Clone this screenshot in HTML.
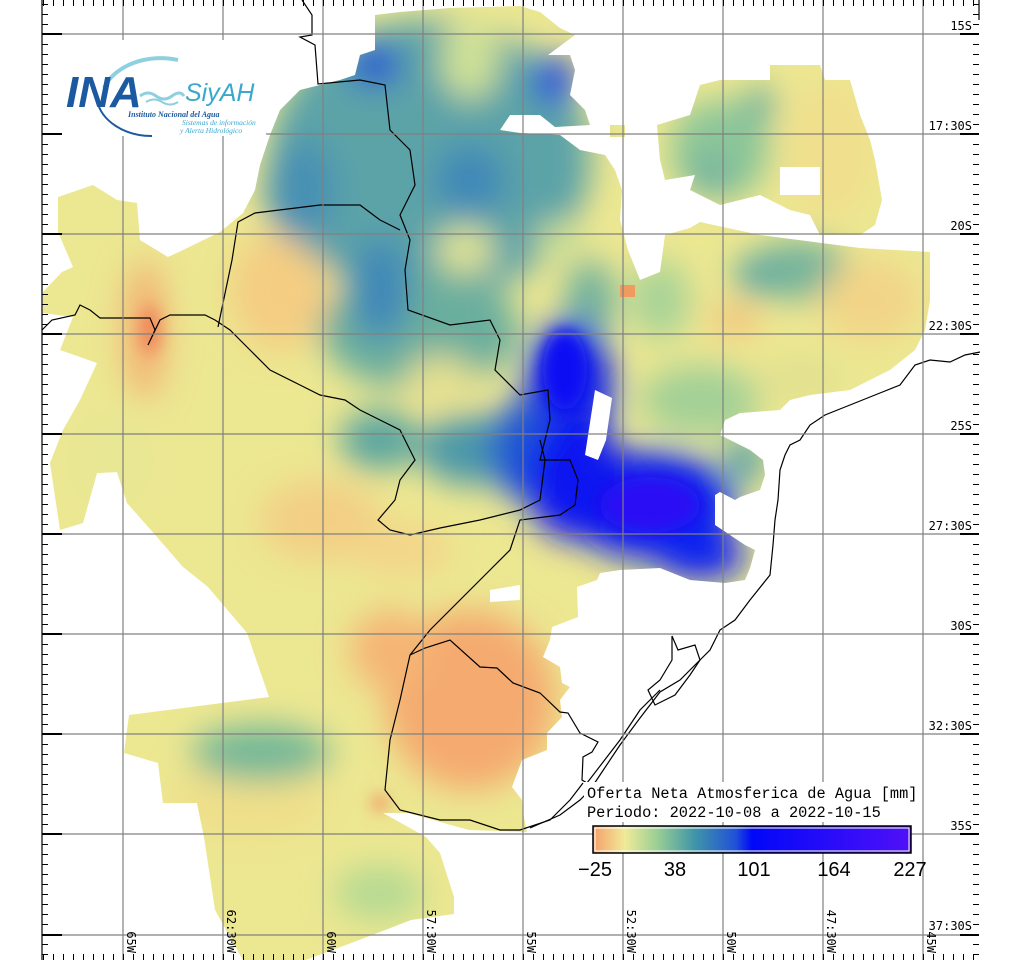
<!DOCTYPE html>
<html><head><meta charset="utf-8"><style>
html,body{margin:0;padding:0;background:#fff;}
svg{display:block;}
</style></head><body>
<svg width="1024" height="960" viewBox="0 0 1024 960" xmlns="http://www.w3.org/2000/svg">
<defs>
<clipPath id="land">
<path d="M93,185 L117,200 L137,203 L140,240 L168,257 L183,250 L220,232 L243,213 L255,190 L260,165 L270,135 L280,110 L300,90 L320,85 L340,80 L355,75 L360,55 L375,50 L375,15 L400,12 L450,8 L520,6 L540,12 L560,28 L575,35 L548,55 L570,55 L575,70 L570,95 L585,110 L590,125 L555,127 L540,115 L510,115 L500,130 L520,133 L560,135 L580,150 L605,155 L615,170 L622,190 L620,220 L628,250 L640,280 L660,272 L665,235 L690,228 L700,222 L760,235 L860,248 L930,252 L930,300 L925,330 L915,350 L890,370 L870,380 L850,390 L810,395 L790,400 L780,410 L740,413 L725,420 L720,435 L750,450 L763,460 L765,475 L760,490 L740,497 L735,500 L720,492 L715,495 L715,525 L745,545 L755,550 L750,568 L745,580 L725,583 L690,580 L660,568 L620,570 L600,573 L597,580 L577,587 L578,617 L552,627 L550,640 L543,657 L560,667 L562,683 L570,687 L560,700 L562,717 L547,733 L547,750 L522,760 L512,787 L522,800 L523,813 L527,832 L469,830 L408,813 L383,813 L426,837 L440,853 L454,897 L454,914 L411,920 L354,942 L300,962 L244,962 L215,910 L204,837 L197,803 L163,803 L158,763 L124,753 L129,715 L269,697 L247,633 L208,587 L183,567 L157,537 L127,503 L117,472 L97,473 L83,523 L60,530 L50,463 L63,430 L80,400 L97,363 L60,350 L73,317 L43,313 L43,292 L62,272 L73,267 L58,232 L58,197 Z"/>
<path d="M657,125 L690,115 L700,85 L720,80 L770,80 L770,65 L820,65 L825,80 L850,80 L860,115 L870,140 L875,160 L882,200 L875,225 L860,235 L820,235 L810,215 L790,210 L760,195 L740,200 L720,205 L690,190 L695,175 L665,180 L660,160 Z"/>
<rect x="610" y="125" width="15" height="12"/>
</clipPath>
<filter id="b" x="-50%" y="-50%" width="200%" height="200%"><feGaussianBlur stdDeviation="16"/></filter>
<filter id="b2" x="-50%" y="-50%" width="200%" height="200%"><feGaussianBlur stdDeviation="8"/></filter>
<linearGradient id="cb" x1="0" x2="1" y1="0" y2="0">
<stop offset="0" stop-color="#f6a06a"/>
<stop offset="0.1" stop-color="#f0ea98"/>
<stop offset="0.2" stop-color="#9ccf95"/>
<stop offset="0.32" stop-color="#3f95a8"/>
<stop offset="0.45" stop-color="#2050d8"/>
<stop offset="0.5" stop-color="#0008f8"/>
<stop offset="0.75" stop-color="#2a0cf8"/>
<stop offset="1" stop-color="#5010f8"/>
</linearGradient>
<pattern id="tv" x="0" y="4" width="10" height="10" patternUnits="userSpaceOnUse"><line x1="0" y1="0" x2="10" y2="0" stroke="#000" stroke-width="2"/></pattern>
<pattern id="th" x="3" y="0" width="10" height="10" patternUnits="userSpaceOnUse"><line x1="0" y1="0" x2="0" y2="10" stroke="#000" stroke-width="2"/></pattern>
</defs>

<g clip-path="url(#land)">
<rect x="0" y="0" width="1024" height="960" fill="#ece791"/>
<g filter="url(#b)">
<ellipse cx="145" cy="330" rx="22" ry="70" fill="#f2b474"/>
<ellipse cx="280" cy="290" rx="50" ry="60" fill="#f4cd82"/>
<ellipse cx="470" cy="700" rx="85" ry="90" fill="#f5aa70"/>
<ellipse cx="390" cy="650" rx="40" ry="40" fill="#f5b574"/>
<ellipse cx="320" cy="520" rx="60" ry="40" fill="#f3cf84"/>
<ellipse cx="400" cy="550" rx="50" ry="25" fill="#f4d488"/>
<ellipse cx="250" cy="800" rx="80" ry="40" fill="#efdf8a"/>
<ellipse cx="430" cy="160" rx="160" ry="140" fill="#5ba3a8"/>
<ellipse cx="420" cy="330" rx="100" ry="60" fill="#6aae9e"/>
<ellipse cx="470" cy="60" rx="30" ry="40" fill="#cfe196"/>
<ellipse cx="470" cy="180" rx="35" ry="35" fill="#3f88b8"/>
<ellipse cx="300" cy="190" rx="35" ry="50" fill="#4690b4"/>
<ellipse cx="375" cy="65" rx="25" ry="20" fill="#1f4ed4"/>
<ellipse cx="555" cy="80" rx="20" ry="25" fill="#1a40e0"/>
<ellipse cx="380" cy="290" rx="30" ry="50" fill="#3f88b8"/>
<ellipse cx="465" cy="250" rx="30" ry="25" fill="#dfe395"/>
<ellipse cx="560" cy="240" rx="25" ry="20" fill="#c9de94"/>
<ellipse cx="440" cy="380" rx="35" ry="25" fill="#e4e090"/>
<ellipse cx="380" cy="440" rx="40" ry="30" fill="#5aa5a0"/>
<ellipse cx="470" cy="450" rx="50" ry="35" fill="#4c98a8"/>
<ellipse cx="590" cy="300" rx="25" ry="40" fill="#6fb09e"/>
<ellipse cx="720" cy="150" rx="50" ry="50" fill="#8cc699"/>
<ellipse cx="830" cy="150" rx="45" ry="70" fill="#f0df8c"/>
<ellipse cx="760" cy="105" rx="15" ry="20" fill="#6aaea0"/>
<ellipse cx="710" cy="175" rx="20" ry="20" fill="#6fb0a0"/>
<ellipse cx="800" cy="270" rx="50" ry="30" fill="#74b49c"/>
<ellipse cx="755" cy="275" rx="20" ry="20" fill="#5aa6a3"/>
<ellipse cx="660" cy="300" rx="30" ry="40" fill="#a8d397"/>
<ellipse cx="870" cy="300" rx="50" ry="40" fill="#f2d487"/>
<ellipse cx="735" cy="320" rx="25" ry="15" fill="#f3c07c"/>
<ellipse cx="700" cy="400" rx="60" ry="35" fill="#a3d096"/>
<ellipse cx="800" cy="380" rx="40" ry="20" fill="#dfe090"/>
<ellipse cx="745" cy="460" rx="20" ry="25" fill="#5aa0a8"/>
<ellipse cx="570" cy="390" rx="45" ry="70" fill="#1428e8"/>
<ellipse cx="520" cy="450" rx="30" ry="50" fill="#2458d2"/>
<ellipse cx="650" cy="505" rx="85" ry="55" fill="#1020f0"/>
<ellipse cx="700" cy="555" rx="45" ry="25" fill="#1020f0"/>
<ellipse cx="575" cy="480" rx="50" ry="60" fill="#0f18f0"/>
<ellipse cx="261" cy="753" rx="70" ry="28" fill="#74b898"/>
<ellipse cx="379" cy="893" rx="45" ry="28" fill="#b6da92"/>
<ellipse cx="110" cy="460" rx="40" ry="50" fill="#e8e794"/>
</g>
<g filter="url(#b2)">
<ellipse cx="565" cy="370" rx="22" ry="40" fill="#0a10f4"/>
<ellipse cx="650" cy="505" rx="50" ry="28" fill="#2a0cf4"/>
<ellipse cx="380" cy="803" rx="8" ry="8" fill="#f08a5a"/>
<ellipse cx="150" cy="330" rx="10" ry="25" fill="#f08458"/>
</g>
<path d="M595,390 L612,398 L606,440 L598,460 L585,455 Z" fill="#fff"/>
<rect x="780" y="167" width="40" height="28" fill="#fff"/>
<path d="M490,590 L520,585 L520,600 L490,602 Z" fill="#fff"/>
<rect x="620" y="285" width="15" height="12" fill="#f09a60"/>
</g>

<g fill="none" stroke="#000" stroke-width="1.2">
<path d="M302,0 L312,15 L312,35 L300,37 L315,45 L318,84 L360,80 L385,85 L390,130 L410,150 L415,185 L400,215 L410,240 L405,270 L408,310 L450,325 L490,320 L500,340 L495,370 L520,395 L548,390 L550,420 L540,460 L570,460 L578,480 L575,505 L560,515 L520,520 L510,550 L490,570 L470,590 L450,610 L430,630 L410,655 L400,700 L390,740 L385,790 L400,810 L440,820 L470,820 L500,830 L520,830 L550,820 L570,800 L583,783"/>
<path d="M42,330 L52,320 L75,315 L80,305 L90,310 L100,318 L150,318 L155,330 L148,345 L160,320 L170,315 L205,315 L215,320 L230,330 L250,350 L270,370 L300,385 L320,395 L345,400 L360,410 L380,420 L400,430 L415,460 L400,480 L395,500 L378,520 L390,530 L410,535 L440,528 L480,520 L520,510 L540,500 L545,460 L540,440"/>
<path d="M218,327 L232,260 L238,222 L255,213 L320,205 L360,205 L380,220 L400,230"/>
<path d="M410,655 L425,648 L450,640 L480,667 L497,668 L513,683 L540,693 L560,712 L568,713 L580,733 L598,742 L592,752 L583,757 L582,780 L587,783 L620,740 L640,710 L660,690"/>
<path d="M980,352 L965,355 L950,362 L930,360 L915,365 L900,385 L880,393 L850,405 L825,415 L810,425 L800,440 L790,445 L785,455 L780,470 L778,500 L775,520 L773,545 L770,575 L750,600 L735,620 L720,630 L710,650 L700,660 L680,680 L660,692 L640,718 L620,745 L600,775 L590,790 L580,800 L560,815 L530,828"/>
<path d="M672,636 L678,650 L695,645 L700,660 L690,675 L675,695 L655,705 L648,690 L660,680 L672,660 Z"/>
</g>

<g stroke="#808080" stroke-width="1.2">
<line x1="123" y1="0" x2="123" y2="960"/><line x1="223" y1="0" x2="223" y2="960"/>
<line x1="323" y1="0" x2="323" y2="960"/><line x1="423" y1="0" x2="423" y2="960"/>
<line x1="523" y1="0" x2="523" y2="960"/><line x1="623" y1="0" x2="623" y2="960"/>
<line x1="723" y1="0" x2="723" y2="960"/><line x1="823" y1="0" x2="823" y2="960"/>
<line x1="923" y1="0" x2="923" y2="960"/>
<line x1="42" y1="34" x2="979" y2="34"/><line x1="42" y1="134" x2="979" y2="134"/>
<line x1="42" y1="234" x2="979" y2="234"/><line x1="42" y1="334" x2="979" y2="334"/>
<line x1="42" y1="434" x2="979" y2="434"/><line x1="42" y1="534" x2="979" y2="534"/>
<line x1="42" y1="634" x2="979" y2="634"/><line x1="42" y1="734" x2="979" y2="734"/>
<line x1="42" y1="834" x2="979" y2="834"/><line x1="42" y1="935" x2="979" y2="935"/>
</g>

<rect x="44" y="40" width="222" height="96" fill="#fff"/>
<path d="M104,88 A60,44 0 0 1 178,60" fill="none" stroke="#8fd0e0" stroke-width="4"/>
<path d="M97,100 A55,42 0 0 0 152,136" fill="none" stroke="#1b5aa0" stroke-width="2"/>
<text x="66" y="107" style="font-family:'Liberation Sans',sans-serif;font-style:italic;font-weight:bold;font-size:44px" fill="#1b5aa0">INA</text>
<text x="185" y="101" style="font-family:'Liberation Sans',sans-serif;font-style:italic;font-size:25px" fill="#3aa8cc">SiyAH</text>
<path d="M140,96 q8,-6 16,0 t16,0 t12,0" fill="none" stroke="#8fd0e0" stroke-width="3"/>
<path d="M146,102 q8,-5 16,0 t16,0" fill="none" stroke="#8fd0e0" stroke-width="2"/>
<text x="128" y="117" style="font-family:'Liberation Serif',serif;font-style:italic;font-weight:bold;font-size:8px" fill="#1b5aa0">Instituto Nacional del Agua</text>
<text x="182" y="125" style="font-family:'Liberation Serif',serif;font-style:italic;font-size:7.5px" fill="#3aa8cc">Sistemas de información</text>
<text x="180" y="133" style="font-family:'Liberation Serif',serif;font-style:italic;font-size:7.5px" fill="#3aa8cc">y Alerta Hidrológico</text>

<line x1="42" y1="0" x2="42" y2="960" stroke="#000" stroke-width="1.2"/>
<line x1="979" y1="0" x2="979" y2="20" stroke="#000" stroke-width="1.2"/>
<rect x="42" y="0" width="6" height="960" fill="url(#tv)"/>
<rect x="973" y="0" width="6" height="960" fill="url(#tv)"/>
<rect x="42" y="0" width="937" height="6" fill="url(#th)"/>
<rect x="42" y="954" width="937" height="6" fill="url(#th)"/>
<g stroke="#000" stroke-width="2">
<line x1="42" y1="34" x2="62" y2="34"/><line x1="42" y1="134" x2="62" y2="134"/><line x1="42" y1="234" x2="62" y2="234"/><line x1="42" y1="334" x2="62" y2="334"/><line x1="42" y1="434" x2="62" y2="434"/><line x1="42" y1="534" x2="62" y2="534"/><line x1="42" y1="634" x2="62" y2="634"/><line x1="42" y1="734" x2="62" y2="734"/><line x1="42" y1="834" x2="62" y2="834"/><line x1="42" y1="935" x2="62" y2="935"/>
<line x1="960" y1="34" x2="979" y2="34"/><line x1="960" y1="134" x2="979" y2="134"/><line x1="960" y1="234" x2="979" y2="234"/><line x1="960" y1="334" x2="979" y2="334"/><line x1="960" y1="434" x2="979" y2="434"/><line x1="960" y1="534" x2="979" y2="534"/><line x1="960" y1="634" x2="979" y2="634"/><line x1="960" y1="734" x2="979" y2="734"/><line x1="960" y1="834" x2="979" y2="834"/><line x1="960" y1="935" x2="979" y2="935"/>
</g>

<g style="font-family:'DejaVu Sans Mono','Liberation Mono',monospace;font-size:12px" text-anchor="end" fill="#000">
<text x="972" y="30">15S</text><text x="972" y="130">17:30S</text>
<text x="972" y="230">20S</text><text x="972" y="330">22:30S</text>
<text x="972" y="430">25S</text><text x="972" y="530">27:30S</text>
<text x="972" y="630">30S</text><text x="972" y="730">32:30S</text>
<text x="972" y="830">35S</text><text x="972" y="930">37:30S</text>
</g>
<g style="font-family:'DejaVu Sans Mono','Liberation Mono',monospace;font-size:12px" fill="#000" text-anchor="end">
<text transform="translate(127,953) rotate(90)">65W</text>
<text transform="translate(227,953) rotate(90)">62:30W</text>
<text transform="translate(327,953) rotate(90)">60W</text>
<text transform="translate(427,953) rotate(90)">57:30W</text>
<text transform="translate(527,953) rotate(90)">55W</text>
<text transform="translate(627,953) rotate(90)">52:30W</text>
<text transform="translate(727,953) rotate(90)">50W</text>
<text transform="translate(827,953) rotate(90)">47:30W</text>
<text transform="translate(927,953) rotate(90)">45W</text>
</g>

<rect x="584" y="782" width="336" height="40" fill="#fff"/>
<g style="font-family:'Liberation Mono',monospace;font-size:15.3px" fill="#000">
<text x="587" y="798">Oferta Neta Atmosferica de Agua [mm]</text>
<text x="587" y="817">Periodo: 2022-10-08 a 2022-10-15</text>
</g>
<rect x="593" y="826" width="318" height="27" fill="url(#cb)" stroke="#000" stroke-width="1.5"/>
<rect x="595" y="828" width="314" height="23" fill="none" stroke="#fff" stroke-width="1"/>
<g style="font-family:'Liberation Sans',sans-serif;font-size:20px" fill="#000" text-anchor="middle">
<text x="595" y="876">−25</text><text x="675" y="876">38</text>
<text x="754" y="876">101</text><text x="834" y="876">164</text><text x="910" y="876">227</text>
</g>
</svg>
</body></html>
